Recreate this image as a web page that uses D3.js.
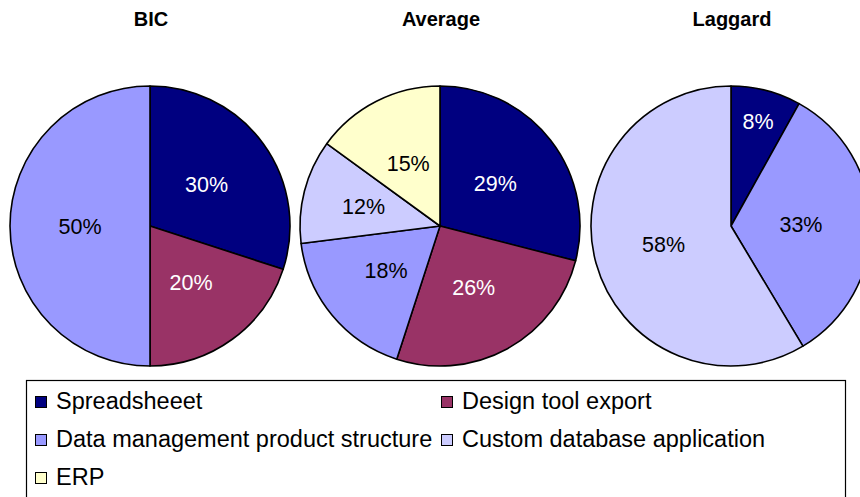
<!DOCTYPE html>
<html>
<head>
<meta charset="utf-8">
<script src="https://cdn.jsdelivr.net/npm/d3@7"></script>
<style>
  html, body { margin: 0; padding: 0; background: #fff; }
  svg { display: block; }
  text { font-family: Arial, "Liberation Sans", sans-serif; }
</style>
</head>
<body>
<svg id="chart" width="860" height="497"></svg>
<script>
// ---- data ----
const categories = ["Spreadsheeet", "Design tool export", "Data management product structure", "Custom database application", "ERP"];
const groups = ["BIC", "Average", "Laggard"];
const bicValues = [30, 20, 50, 0, 0];
const averageValues = [29, 26, 18, 12, 15];
const laggardValues = [8, 0, 33, 58, 0];
const colors = ["#000080", "#993366", "#9999FF", "#CCCCFF", "#FFFFCC"];
const labelColors = ["#ffffff", "#ffffff", "#000000", "#000000", "#000000"];

const seriesByGroup = [bicValues, averageValues, laggardValues];

// ---- layout ----
const R = 140;
const centers = [150, 440, 731];
const cy = 226;

const svg = d3.select("#chart");

const pie = d3.pie().sort(null).value(d => d.v);
const arc = d3.arc().innerRadius(0).outerRadius(R);

// signed distance of point p from the boundary ray at angle a (clockwise from top),
// positive on the side of smaller/larger angles depending on sign s
function sideDist(px, py, a, s) {
  // ray direction u = (sin a, -cos a); normal toward increasing angle = (cos a, sin a)
  return s * (px * Math.cos(a) + py * Math.sin(a));
}

groups.forEach((g, gi) => {
  const data = seriesByGroup[gi].map((v, i) => ({ v, i })).filter(d => d.v > 0);
  const gEl = svg.append("g").attr("transform", `translate(${centers[gi]},${cy})`);
  const arcs = pie(data);

  gEl.selectAll("path")
    .data(arcs)
    .join("path")
    .attr("d", arc)
    .attr("fill", d => colors[d.data.i])
    .attr("stroke", "#000")
    .attr("stroke-width", 1.6)
    .attr("stroke-linejoin", "round");

  arcs.forEach(d => {
    const t = gEl.append("text")
      .attr("text-anchor", "middle")
      .attr("font-size", 21.5)
      .attr("fill", labelColors[d.data.i])
      .text(d.data.v + "%");
    const bb = t.node().getBBox();
    const w = bb.width, h = bb.height * 0.75;
    const mid = (d.startAngle + d.endAngle) / 2;
    const span = d.endAngle - d.startAngle;
    const margin = 9;
    let dist = R * 0.5;
    if (span < Math.PI) {
      for (let k = 0; k < 200; k++) {
        const x = dist * Math.sin(mid), y = -dist * Math.cos(mid);
        let ok = true;
        for (const sx of [-1, 1]) for (const sy of [-1, 1]) {
          const px = x + sx * w / 2, py = y + sy * h / 2;
          if (sideDist(px, py, d.startAngle, 1) < margin) ok = false;
          if (sideDist(px, py, d.endAngle, -1) < margin) ok = false;
          if (Math.hypot(px, py) > R - 6) ok = false;
        }
        if (ok) break;
        dist += 1;
        if (dist > R * 0.82) break;
      }
    }
    const x = dist * Math.sin(mid), y = -dist * Math.cos(mid);
    t.attr("x", x).attr("y", y + 7.5);
  });

  svg.append("text")
    .attr("x", centers[gi] + 1)
    .attr("y", 26)
    .attr("text-anchor", "middle")
    .attr("font-size", 20)
    .attr("font-weight", "bold")
    .attr("fill", "#000")
    .text(g);
});

// ---- legend ----
const legend = svg.append("g");
legend.append("rect")
  .attr("x", 26.5).attr("y", 380.5)
  .attr("width", 819).attr("height", 140)
  .attr("fill", "#fff").attr("stroke", "#000").attr("stroke-width", 1.2);

const colX = [35, 441];
const rowY = [401, 439, 477];
categories.forEach((c, i) => {
  const col = i % 2, row = Math.floor(i / 2);
  const item = legend.append("g").attr("transform", `translate(${colX[col]},${rowY[row]})`);
  item.append("rect")
    .attr("x", 0.5).attr("y", -4.5)
    .attr("width", 11).attr("height", 11)
    .attr("fill", colors[i]).attr("stroke", "#000").attr("stroke-width", 1);
  item.append("text")
    .attr("x", 21).attr("y", 7.5)
    .attr("font-size", 23.5)
    .attr("fill", "#000")
    .text(c);
});
</script>
</body>
</html>
